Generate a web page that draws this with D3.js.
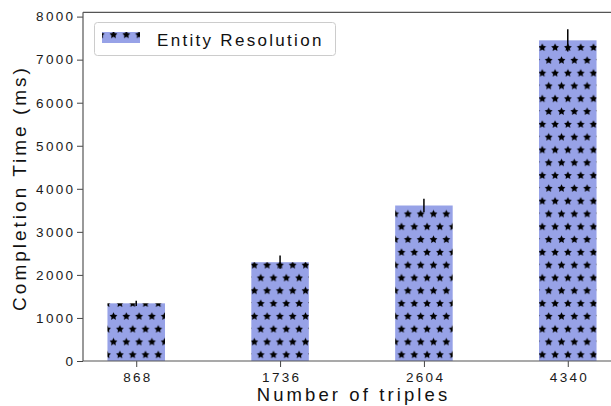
<!DOCTYPE html>
<html><head><meta charset="utf-8">
<script src="https://cdn.jsdelivr.net/npm/d3@7"></script>
<style>
html,body{margin:0;padding:0;background:#fff;overflow:hidden;}
text{font-family:"Liberation Sans",Arial,sans-serif;}
</style></head>
<body><svg id="c" width="611" height="406"></svg>
<script>
const categories = ["868","1736","2604","4340"];
const values = [1340, 2295, 3612, 7449];
const errors = [60, 154, 155, 260];
const yTicks = [0,1000,2000,3000,4000,5000,6000,7000,8000];
const seriesName = "Entity Resolution";

(function(){
const svg = d3.select("#c");
const W=611,H=406;
const mL=83, mR=621, mT=12.3, mB=361;
const x = d3.scaleLinear().domain([-0.37,3.37]).range([mL,mR]);
const y = d3.scaleLinear().domain([0,8100]).range([mB,mT]);
const barW = 0.4;
const fill = "#97a2e7";

const defs = svg.append("defs");
const sx=12.8, sy=25.6;
const pat = defs.append("pattern").attr("id","stars").attr("patternUnits","userSpaceOnUse")
  .attr("x",4.7).attr("y",21.5).attr("width",sx).attr("height",sy);
pat.append("rect").attr("width",sx).attr("height",sy).attr("fill",fill);
const starPath = (cx,cy,R)=>{const r=R*0.5;let p="";for(let i=0;i<10;i++){const a=-Math.PI/2+i*Math.PI/5;const rr=i%2?r:R;p+=(i?"L":"M")+(cx+rr*Math.cos(a)).toFixed(2)+","+(cy+rr*Math.sin(a)).toFixed(2);}return p+"Z";};
[[0,0],[sx,0],[0,sy],[sx,sy],[sx/2,sy/2]].forEach(([a,b])=>pat.append("path").attr("d",starPath(a,b+0.5,4.1)).attr("fill","#000"));

const g = svg.append("g");
g.selectAll("rect.bar").data(values).join("rect").attr("class","bar")
  .attr("x",(d,i)=>x(i-barW/2)).attr("width",(d,i)=>x(i+barW/2)-x(i-barW/2))
  .attr("y",d=>y(d)).attr("height",d=>y(0)-y(d)).attr("fill","url(#stars)");

g.selectAll("line.err").data(values).join("line").attr("class","err")
  .attr("x1",(d,i)=>x(i)).attr("x2",(d,i)=>x(i))
  .attr("y1",(d,i)=>y(d-errors[i])).attr("y2",(d,i)=>y(d+errors[i]))
  .attr("stroke","#000").attr("stroke-width",1.5);

const yAxis = d3.axisLeft(y).tickValues(yTicks).tickFormat(d3.format("d")).tickSize(6).tickPadding(4);
const ya = svg.append("g").attr("transform",`translate(${mL},0)`).call(yAxis);
ya.select(".domain").remove();
ya.selectAll(".tick line").attr("stroke","#444").attr("stroke-width",1);
ya.selectAll(".tick text").attr("font-size",13.5).attr("fill","#1a1a1a").style("letter-spacing","2.3px").attr("dx",2.3);

const xAxis = d3.axisBottom(x).tickValues([0,1,2,3]).tickFormat(i=>categories[i]).tickSize(6).tickPadding(5);
const xa = svg.append("g").attr("transform",`translate(0,${mB})`).call(xAxis);
xa.select(".domain").remove();
xa.selectAll(".tick line").attr("stroke","#444").attr("stroke-width",1);
xa.selectAll(".tick text").attr("font-size",13.5).attr("fill","#1a1a1a").style("letter-spacing","2.3px").attr("dx",1.15);

svg.append("line").attr("x1",mL).attr("x2",mL).attr("y1",mT).attr("y2",mB).attr("stroke","#555").attr("stroke-width",1.2);
svg.append("line").attr("x1",mL).attr("x2",W).attr("y1",mB).attr("y2",mB).attr("stroke","#555").attr("stroke-width",1.2);
svg.append("line").attr("x1",mL).attr("x2",W).attr("y1",mT).attr("y2",mT).attr("stroke","#555").attr("stroke-width",1.2);

svg.append("text").attr("x",(mL+mR)/2+1.5).attr("y",401).attr("text-anchor","middle")
  .attr("font-size",18.5).attr("fill","#111").style("letter-spacing","3.1px").text("Number of triples");
svg.append("text").attr("transform","translate(26,188) rotate(-90)").attr("text-anchor","middle")
  .attr("font-size",19).attr("fill","#111").style("letter-spacing","3px").text("Completion Time (ms)");

const lg = svg.append("g");
lg.append("rect").attr("x",94.5).attr("y",22.5).attr("width",241).attr("height",33).attr("rx",3)
  .attr("fill","#fff").attr("fill-opacity",0.8).attr("stroke","#ccc").attr("stroke-width",1);
lg.append("rect").attr("x",102).attr("y",32).attr("width",38).attr("height",11).attr("fill","url(#stars)");
lg.append("text").attr("x",157).attr("y",45.5).attr("font-size",17).attr("fill","#111")
  .style("letter-spacing","2.3px").text(seriesName);
})();
</script></body></html>
